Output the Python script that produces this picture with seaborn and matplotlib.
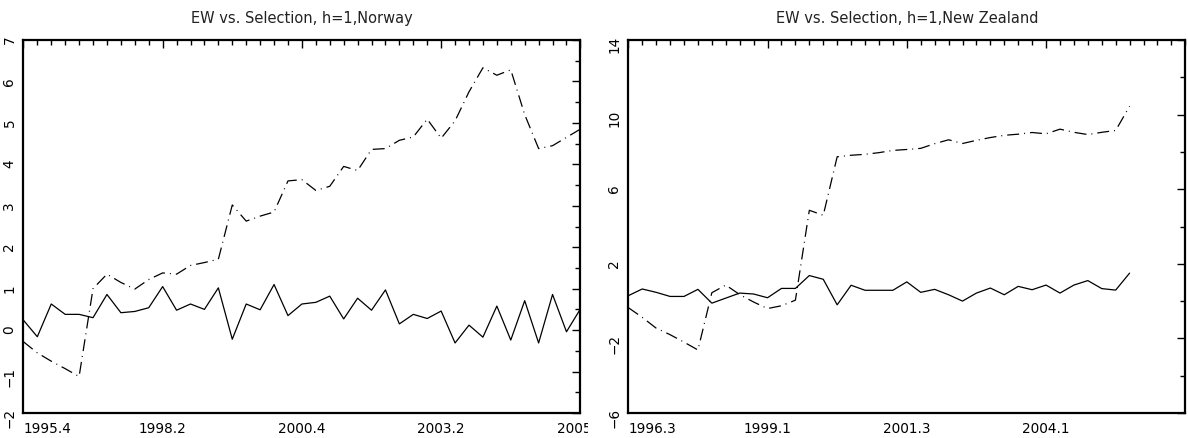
import matplotlib
matplotlib.use("Agg")
import matplotlib.pyplot as plt
import matplotlib.patches as mpatches
from matplotlib.ticker import FixedLocator, MultipleLocator
import numpy as np
import pandas as pd
import seaborn as sns

# Norway, quarterly 1995.4 .. 2005.4
nor_labels = ["1995.4", "1998.2", "2000.4", "2003.2", "2005.4"]
nor_ew = [0.24, -0.16, 0.63, 0.38, 0.38, 0.30, 0.86, 0.42, 0.45, 0.54,
          1.05, 0.48, 0.63, 0.50, 1.02, -0.22, 0.63, 0.49, 1.10, 0.35,
          0.63, 0.67, 0.82, 0.27, 0.77, 0.48, 0.97, 0.15, 0.38, 0.28,
          0.46, -0.31, 0.12, -0.17, 0.58, -0.24, 0.71, -0.31, 0.86, -0.04,
          0.51]
nor_sel = [-0.28, -0.55, -0.75, -0.93, -1.12, 1.00, 1.35, 1.15, 0.99, 1.22,
           1.38, 1.35, 1.56, 1.63, 1.71, 3.02, 2.63, 2.75, 2.85, 3.60,
           3.63, 3.37, 3.47, 3.95, 3.85, 4.36, 4.38, 4.58, 4.66, 5.09,
           4.63, 5.05, 5.75, 6.33, 6.15, 6.28, 5.20, 4.38, 4.45, 4.65,
           4.85]

# New Zealand, quarterly 1996.3 ..
nz_labels = ["1996.3", "1999.1", "2001.3", "2004.1"]
nz_ew = [0.29, 0.65, 0.47, 0.25, 0.25, 0.63, -0.11, 0.16, 0.43, 0.38,
         0.18, 0.68, 0.68, 1.37, 1.17, -0.20, 0.85, 0.58, 0.58, 0.58,
         1.03, 0.47, 0.63, 0.34, 0.00, 0.43, 0.70, 0.34, 0.79, 0.61,
         0.86, 0.43, 0.86, 1.10, 0.67, 0.59, 1.50]
nz_sel = [-0.35, -0.87, -1.45, -1.80, -2.20, -2.62, 0.45, 0.86, 0.35, -0.05,
          -0.40, -0.25, 0.05, 4.87, 4.60, 7.74, 7.82, 7.87, 7.96, 8.08,
          8.13, 8.19, 8.44, 8.65, 8.45, 8.62, 8.77, 8.89, 8.95, 9.04,
          8.97, 9.22, 9.05, 8.93, 9.05, 9.15, 10.45]

sns.set_theme(style="white")
plt.rcParams["font.family"] = ["DejaVu Sans"]
plt.rcParams["lines.scale_dashes"] = False

W, H = 1188, 439
fig = plt.figure(figsize=(W / 100, H / 100), dpi=100)
ax1 = fig.add_axes([23.4 / W, 25 / H, 557 / W, 373 / H])
ax2 = fig.add_axes([628.3 / W, 25 / H, 557 / W, 373 / H])

dashdot = (0, (8.6, 3.6, 0.7, 3.6))


def panel(ax, ew, sel, labels, ylo, yhi, ymaj, ymin, title):
    df = pd.DataFrame({"q": np.arange(len(ew)), "ew": ew, "sel": sel})
    sns.lineplot(data=df, x="q", y="ew", color="black", lw=0.9, ax=ax)
    sns.lineplot(data=df, x="q", y="sel", color="black", lw=0.9,
                 linestyle=dashdot, ax=ax)
    ax.set_xlim(0, 40)
    ax.set_ylim(ylo, yhi)
    ax.set_xlabel("")
    ax.set_ylabel("")
    ax.xaxis.set_major_locator(FixedLocator([10 * i for i in range(len(labels))]))
    ax.set_xticklabels(labels)
    ax.xaxis.set_minor_locator(MultipleLocator(1))
    ax.yaxis.set_major_locator(FixedLocator(np.arange(ylo, yhi + ymaj / 2, ymaj)))
    ax.yaxis.set_minor_locator(FixedLocator(np.arange(ylo, yhi + ymin / 2, ymin)))
    ax.tick_params(which="both", direction="in", top=True, right=True,
                   colors="black", labelsize=9.8, width=1)
    ax.tick_params(which="major", length=6, pad=6)
    ax.tick_params(which="minor", length=3.5)
    ax.tick_params(axis="y", labelrotation=90, pad=5)
    ax.get_xticklabels()[0].set_ha("left")
    for s in ax.spines.values():
        s.set_linewidth(1.6)
        s.set_color("black")
    ax.set_title(title, fontsize=10.5, pad=13, color="#222222")


panel(ax1, nor_ew, nor_sel, nor_labels, -2, 7, 1, 0.5,
      "EW vs. Selection, h=1,Norway")
panel(ax2, nz_ew, nz_sel, nz_labels, -6, 14, 4, 2,
      "EW vs. Selection, h=1,New Zealand")

# the last Norway date is cut at the panel's edge
clip = mpatches.Rectangle((0, 0), 588 / W, 1, transform=fig.transFigure,
                          facecolor="none", edgecolor="none")
fig.add_artist(clip)
last = ax1.get_xticklabels()[-1]
last.set_clip_on(True)
last.set_clip_path(clip)

fig.savefig("out.png", dpi=100)
